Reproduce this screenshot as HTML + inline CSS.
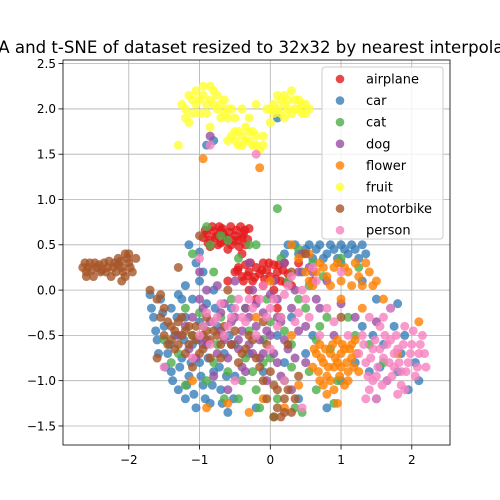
<!DOCTYPE html>
<html><head><meta charset="utf-8"><style>
body{margin:0;background:#fff;}
svg{display:block;font-family:"DejaVu Sans","Liberation Sans",sans-serif;}
</style></head><body>
<svg id="chart" width="500" height="500">
<text x="256" y="53" font-size="16.6" text-anchor="middle">PCA and t-SNE of dataset resized to 32x32 by nearest interpolation</text>
<g id="grid"></g><g id="pts"></g><g id="axes"></g><g id="legend"></g>
</svg>
<script>
const classNames=["airplane","car","cat","dog","flower","fruit","motorbike","person"];
const classColors=["#e41a1c","#377eb8","#4daf4a","#984ea3","#ff7f00","#ffff33","#a65628","#f781bf"];
const xTicks=[-2,-1,0,1,2];
const yTicks=[-1.5,-1.0,-0.5,0.0,0.5,1.0,1.5,2.0,2.5];
const airplanePts=[[-0.95,0.58],[-0.9,0.62],[-0.85,0.55],[-0.8,0.65],[-0.75,0.6],[-0.7,0.52],[-0.68,0.68],[-0.62,0.58],[-0.58,0.64],[-0.55,0.5],[-0.5,0.6],[-0.45,0.55],[-0.42,0.7],[-0.38,0.62],[-0.35,0.5],[-0.3,0.68],[-0.85,0.48],[-0.72,0.7],[-0.6,0.45],[-0.4,0.4],[-0.5,0.2],[-0.45,0.25],[-0.4,0.15],[-0.35,0.28],[-0.3,0.2],[-0.25,0.1],[-0.2,0.25],[-0.15,0.18],[-0.1,0.3],[-0.05,0.22],[0,0.15],[0.05,0.28],[0.1,0.2],[0.15,0.1],[0.2,0.3],[0.25,0.18],[-0.1,0.05],[0.05,0.0],[-0.3,0.0],[0.3,0.05],[0.1,-0.2],[-0.2,-0.1],[0.4,0.3],[0.6,0.1],[-0.6,0.1],
[-0.92,0.66],[-0.88,0.52],[-0.78,0.58],[-0.74,0.5],[-0.66,0.62],[-0.64,0.54],[-0.56,0.7],[-0.52,0.55],[-0.48,0.66],[-0.44,0.48],[-0.4,0.58],[-0.36,0.66],[-0.32,0.56],[-0.82,0.7],[-0.7,0.66],[-0.46,0.22],[-0.38,0.1],[-0.28,0.3],[-0.22,0.14],[-0.12,0.22],[-0.02,0.3],[0.08,0.12],[0.12,0.28],[0.18,0.22],[-0.08,0.12],[0.22,0.08],[-0.32,0.16]];
const carPts=[[-1.7,-0.05],[-1.65,-0.3],[-1.6,-0.55],[-1.55,-0.1],[-1.5,-0.4],[-1.45,-0.7],[-1.4,-0.2],[-1.4,-0.9],[-1.35,-0.5],[-1.3,-1.1],[-1.3,-0.05],[-1.25,-0.75],[-1.2,-0.3],[-1.2,-1.2],[-1.15,-0.95],[-1.1,-0.6],[-1.1,-0.1],[-1.05,-1.3],[-1.0,-0.8],[-1.0,-0.35],[-0.95,-1.05],[-0.9,-0.15],[-0.9,-0.6],[-0.85,-1.25],[-0.8,-0.9],[-0.75,-0.4],[-0.7,-1.1],[-0.65,-0.7],[-0.6,-1.35],[-0.55,-0.2],[-0.5,-0.95],[-1.2,0.05],[-1.0,0.1],[-0.8,0.0],[-1.05,0.3],[-1.0,0.42],[-0.95,0.2],[-0.9,1.6],[-0.8,1.65],[0.1,1.9],[0.2,0.4],[0.35,0.5],[0.5,0.45],[0.6,0.35],[0.7,0.5],[0.8,0.4],[0.9,0.45],[1.0,0.5],[1.1,0.4],[1.2,0.45],[1.3,0.5],[1.0,0.3],[0.45,0.2],[0.3,-0.3],[0.6,-0.5],[0.2,-0.8],[0.4,-1.2],[-0.2,-1.3],[-0.3,-0.7],[1.3,0.1],[1.5,-0.1],[1.7,-0.2],[1.8,-0.15],[1.9,-0.5],[1.6,-0.6],[1.4,-0.9],[1.2,-0.8],[1.8,-0.9],[2.05,-0.8],[1.95,-1.1],[1.5,-1.2],[0.8,-1.3],[1.0,-1.0],[1.3,-0.4],
[-1.68,-0.2],[-1.62,-0.45],[-1.58,-0.7],[-1.52,-0.25],[-1.48,-0.85],[-1.42,-0.6],[-1.38,-1.0],[-1.32,-0.3],[-1.28,-0.85],[-1.22,-0.55],[-1.18,-1.05],[-1.12,-0.8],[-1.08,-1.15],[-1.02,-0.55],[-0.98,-0.95],[-0.92,-1.2],[-0.88,-0.75],[-0.82,-1.05],[-0.78,-0.2],[-0.72,-0.85],[-0.68,-1.25],[-0.62,-0.95],[-0.58,-0.5],[-0.52,-1.2],[-1.15,0.5],[-1.25,-0.1],[0.25,0.5],[0.4,0.4],[0.55,0.5],[0.65,0.45],[0.75,0.35],[0.85,0.5],[0.95,0.35],[1.05,0.45],[1.15,0.5],[1.25,0.35],[1.35,0.4],[1.75,-0.4],[1.85,-0.7],[1.55,-0.85],[1.45,-0.5],[1.65,-1.0],[2.1,-1.0],[0.1,-0.5],[-0.1,-0.9],[0.5,-0.7]];
const catPts=[[-1.5,-0.55],[-1.3,-0.7],[-1.1,0.4],[-1.2,-0.2],[-0.9,0.7],[-0.95,-0.4],[-0.8,-0.8],[-0.7,-0.3],[-0.65,-1.2],[-0.5,-0.6],[-0.45,0.35],[-0.4,-1.0],[-0.35,-0.2],[-0.3,-0.45],[-0.25,-0.9],[-0.2,0.5],[-0.15,-1.3],[-0.1,-0.55],[-0.05,-0.1],[0,-0.75],[0.05,-1.4],[0.1,0.9],[0.15,-0.3],[0.2,-1.0],[0.25,0.1],[0.3,-0.6],[0.35,-1.3],[0.4,0.45],[0.5,-0.2],[0.55,-0.9],[0.6,0.3],[0.65,-1.1],[0.7,-0.4],[0.75,0.15],[0.85,-0.65],[0.9,-1.25],[1.0,0.35],[1.1,-0.3],[1.25,0.25],[1.4,-0.6],[1.6,-0.8],[-0.6,0.55],[-1.2,-1.05],[-1.0,-0.25],[-0.8,0.2],
[-1.4,-0.8],[-1.1,-0.5],[-0.9,-1.0],[-0.85,0.5],[-0.75,-0.6],[-0.6,-0.9],[-0.55,-0.1],[-0.45,-1.2],[-0.35,-0.75],[-0.2,-1.1],[-0.1,-0.8],[0.0,-0.35],[0.1,-1.2],[0.2,-0.45],[0.3,-0.85],[0.4,-0.1],[0.45,-1.35],[0.55,0.05],[0.65,-0.55],[0.8,-0.3],[0.95,-1.0],[1.2,-0.5],[-0.3,0.5],[-0.7,0.6],[0.15,0.35]];
const dogPts=[[-1.3,-0.5],[-1.1,-0.3],[-1.05,-0.75],[-1.0,0.2],[-0.95,-0.2],[-0.9,-0.55],[-0.85,1.7],[-0.8,-0.95],[-0.75,0.05],[-0.7,-0.45],[-0.65,-0.15],[-0.6,-0.75],[-0.55,-0.35],[-0.5,0.1],[-0.45,-0.55],[-0.4,-0.85],[-0.35,-0.2],[-0.3,-0.6],[-0.25,0.0],[-0.2,-0.4],[-0.15,-0.75],[-0.1,-0.25],[-0.05,-1.0],[0,-0.5],[0.05,0.1],[0.1,-0.8],[0.15,-0.35],[0.2,0.3],[0.25,-0.65],[0.3,-1.1],[0.35,0.0],[0.4,-0.45],[0.45,0.4],[0.5,-0.8],[0.6,0.2],[0.7,-0.2],[0.8,0.1],[0.9,-0.5],[1.0,-0.15],[1.2,-0.3],[1.5,-0.35],[0.1,-0.1],[-0.6,-1.1],[-0.3,0.3],[-0.9,0.0],
[-1.2,-0.4],[-1.15,-0.65],[-1.0,-0.1],[-0.95,-0.6],[-0.85,-0.35],[-0.75,-0.7],[-0.7,-0.25],[-0.65,-0.55],[-0.55,-0.6],[-0.5,-0.3],[-0.45,-0.65],[-0.4,-0.45],[-0.35,-0.9],[-0.3,-0.3],[-0.25,-0.7],[-0.2,-0.15],[-0.15,-0.55],[-0.1,-0.7],[-0.05,-0.45],[0.0,-0.05],[0.05,-0.7],[0.1,-0.3],[0.15,-0.95],[0.2,-0.55],[0.3,-0.2],[0.35,-0.75],[0.4,0.2],[0.5,-0.4],[0.55,0.25],[0.65,-0.1]];
const flowerPts=[[0.7,-0.6],[0.75,-0.8],[0.8,-0.95],[0.85,-0.7],[0.9,-1.1],[0.95,-0.55],[1.0,-0.85],[1.05,-0.65],[1.1,-1.0],[1.15,-0.75],[1.2,-0.55],[0.8,-1.15],[0.9,-0.85],[1.0,-0.7],[0.7,-1.0],[1.1,-0.9],[0.6,-0.85],[0.95,-1.25],[1.25,-0.9],[0.65,-0.7],[0.5,0.2],[0.6,0.05],[0.7,0.3],[0.8,0.15],[0.9,0.25],[1.0,0.1],[1.1,0.2],[1.2,0.3],[1.3,0.05],[1.4,0.2],[1.5,0.1],[1.6,-0.1],[1.3,-0.2],[1.0,-0.1],[0.3,0.5],[0.0,0.1],[-0.2,-0.3],[0.3,-0.5],[0.2,-1.3],[-0.1,-1.2],[-0.3,-1.35],[-0.6,-1.25],[-0.9,-1.3],[-1.1,-1.0],[-0.95,1.45],[-0.15,1.35],[2.1,-0.35],[1.8,-0.7],[0.4,-1.05],
[0.72,-0.75],[0.78,-0.65],[0.82,-0.85],[0.88,-0.6],[0.92,-0.75],[0.98,-0.95],[1.02,-0.6],[1.08,-0.8],[1.12,-0.65],[1.18,-0.85],[0.75,-1.05],[0.85,-1.0],[0.95,-0.8],[1.05,-1.05],[0.68,-0.9],[1.15,-0.6],[0.62,-0.65],[1.22,-0.7],[0.55,0.1],[0.65,0.2],[0.75,0.25],[0.85,0.05],[0.95,0.3],[1.05,0.25],[1.15,0.05],[1.25,0.15],[1.35,0.3],[1.45,0.05],[0.4,0.35],[0.55,0.4]];
const fruitPts=[[-1.3,1.6],[-1.2,2.0],[-1.15,1.85],[-1.1,2.1],[-1.05,2.2],[-1.0,1.95],[-0.95,2.15],[-0.9,2.05],[-0.85,1.8],[-0.8,2.2],[-0.75,2.0],[-0.7,1.9],[-0.65,2.1],[-0.6,1.65],[-0.55,2.0],[-0.5,1.75],[-0.45,1.6],[-0.4,1.7],[-0.35,1.8],[-0.3,1.65],[-0.25,1.75],[-0.2,2.05],[-0.15,1.55],[-0.1,1.7],[-0.05,2.0],[0.0,1.85],[0.05,2.05],[0.1,2.15],[0.15,1.95],[0.2,2.05],[0.25,2.0],[0.3,2.2],[0.35,2.0],[0.4,2.1],[0.45,1.95],[0.5,2.05],[0.55,2.0],[-0.6,1.9],[-0.4,2.0],[-0.2,1.6],[-0.3,1.9],[-1.25,2.05],[-0.85,2.25],[0.2,1.9],
[-1.1,1.95],[-1.0,2.1],[-0.95,2.25],[-0.9,1.95],[-0.8,2.05],[-0.75,2.15],[-0.7,2.05],[-0.65,1.95],[-0.55,1.7],[-0.5,1.65],[-0.45,1.75],[-0.4,1.6],[-0.35,1.65],[-0.3,1.75],[-0.25,1.6],[-0.2,1.7],[-0.1,1.6],[0.0,2.0],[0.05,1.95],[0.1,2.0],[0.15,2.1],[0.2,2.15],[0.25,2.1],[0.3,1.95],[0.35,2.1],[0.4,2.0],[0.45,2.05],[0.5,1.95],[-0.6,2.0],[-0.5,1.9],[-1.15,2.15],[-1.2,1.9],[-0.85,2.1],[-1.05,2.05]];
const motorbikePts=[[-2.65,0.25],[-2.6,0.2],[-2.55,0.3],[-2.5,0.15],[-2.45,0.25],[-2.4,0.2],[-2.35,0.3],[-2.3,0.25],[-2.25,0.15],[-2.2,0.3],[-2.15,0.35],[-2.1,0.25],[-2.05,0.4],[-2.0,0.3],[-1.95,0.2],[-2.1,0.1],[-2.0,0.4],[-1.9,0.35],[-1.7,0.0],[-1.6,-0.1],[-1.55,-0.3],[-1.5,-0.5],[-1.45,-0.6],[-1.4,-0.4],[-1.35,-0.65],[-1.3,-0.35],[-1.25,-0.5],[-1.2,-0.7],[-1.15,-0.4],[-1.1,-0.85],[-1.05,-0.55],[-1.0,-0.7],[-0.95,-0.5],[-0.9,-0.3],[-0.85,-0.75],[-0.8,-0.45],[-1.0,0.6],[-0.7,-0.6],[-0.5,-0.45],[-0.4,-0.7],[-0.3,-0.5],[-0.2,-0.75],[-0.1,-0.35],[0.0,-0.9],[0.1,-1.1],[0.2,-1.2],[0.3,-1.35],[0.4,-0.95],[0.15,-1.4],[-0.05,-1.2],[0.25,-0.6],[0.5,0.4],[0.3,0.2],[1.0,-0.3],[-1.3,0.25],[-1.6,-0.75],[-0.6,0.0],
[-2.62,0.3],[-2.58,0.25],[-2.52,0.22],[-2.48,0.3],[-2.42,0.28],[-2.38,0.22],[-2.32,0.2],[-2.28,0.32],[-2.22,0.25],[-2.18,0.2],[-2.12,0.32],[-2.08,0.2],[-2.02,0.35],[-1.98,0.25],[-2.05,0.15],[-2.15,0.28],[-2.6,0.15],
[-1.55,-0.05],[-1.5,-0.2],[-1.45,-0.35],[-1.4,-0.55],[-1.35,-0.45],[-1.3,-0.6],[-1.25,-0.3],[-1.2,-0.45],[-1.15,-0.6],[-1.1,-0.5],[-1.05,-0.4],[-0.95,-0.65],[-0.9,-0.45],[-0.85,-0.55],[-0.75,-0.5],[-0.7,-0.75],[-0.65,-0.4],[-0.55,-0.6],[-0.45,-0.8],[-0.35,-0.65],[-0.25,-0.55],[-0.15,-0.85],[-0.1,-1.0],[0.05,-1.05],[0.1,-1.3],[0.2,-1.35],[0.25,-1.1],[0.35,-1.2],[0.05,-1.4],[-0.05,-0.6]];
const personPts=[[1.3,-0.5],[1.35,-0.8],[1.4,-1.1],[1.45,-0.65],[1.5,-0.95],[1.55,-0.4],[1.6,-0.75],[1.65,-1.0],[1.7,-0.55],[1.75,-0.85],[1.8,-0.65],[1.85,-1.05],[1.9,-0.4],[1.95,-0.8],[2.0,-0.6],[2.05,-0.95],[2.1,-0.7],[2.15,-0.5],[2.2,-0.85],[1.6,-0.3],[1.5,-1.2],[1.9,-1.1],[1.4,-0.3],[1.25,-0.7],[1.7,-0.2],[-1.5,-0.85],[-1.0,-0.5],[-0.9,-0.25],[-0.8,-0.35],[-0.7,-0.15],[-0.6,-0.4],[-0.5,-0.2],[-0.4,-0.3],[-0.3,-0.1],[-0.2,-0.5],[-0.1,0.05],[0.0,-0.2],[0.1,-0.4],[0.2,-0.05],[0.3,0.15],[0.4,-0.25],[0.5,-0.1],[0.6,0.25],[0.7,-0.5],[0.8,-0.2],[1.0,0.2],[0.9,-0.35],[1.1,-0.5],[-0.85,1.6],[-0.2,1.5],[0.45,-1.3],[-1.0,0.35],[0.2,-1.0],
[1.32,-0.6],[1.38,-0.95],[1.42,-0.75],[1.48,-0.55],[1.52,-0.85],[1.58,-1.05],[1.62,-0.5],[1.68,-0.8],[1.72,-0.95],[1.78,-0.5],[1.82,-0.8],[1.88,-0.6],[1.92,-0.9],[1.98,-0.7],[2.02,-0.45],[2.08,-0.85],[2.12,-0.6],[2.18,-0.7],[1.55,-0.65],[1.65,-0.6],[1.75,-0.7],[1.85,-0.9],[1.45,-1.0],[1.35,-1.2],[1.8,-1.15],[-0.95,-0.4],[-0.75,-0.3],[-0.65,-0.5],[-0.55,-0.3],[-0.45,-0.1],[-0.35,-0.35],[-0.25,-0.2],[-0.15,-0.1],[-0.05,-0.3],[0.05,-0.1],[0.15,-0.3],[0.25,0.05],[0.35,-0.35],[0.45,0.0],[0.55,-0.3],[0.65,0.1],[-0.85,-0.6],[-1.1,-0.75],[-0.5,-1.0],[0.0,-0.65]];
const allSeries=[airplanePts,carPts,catPts,dogPts,flowerPts,fruitPts,motorbikePts,personPts];

const NS="http://www.w3.org/2000/svg";
const L=63,R=450,T=60,B=445;
const xMin=-2.93,xMax=2.54,yMin=-1.71,yMax=2.54;
const sx=v=>L+(v-xMin)/(xMax-xMin)*(R-L);
const sy=v=>B-(v-yMin)/(yMax-yMin)*(B-T);
function mk(tag,attrs,parent){const e=document.createElementNS(NS,tag);for(const k in attrs)e.setAttribute(k,attrs[k]);parent.appendChild(e);return e;}
const grid=document.getElementById('grid'),pts=document.getElementById('pts'),axes=document.getElementById('axes'),leg=document.getElementById('legend');
xTicks.forEach(t=>{
  const g=mk('line',{x1:sx(t),x2:sx(t),y1:T,y2:B,stroke:'#b0b0b0','stroke-width':0.8},grid);
  
  
  const tk=mk('line',{x1:sx(t),x2:sx(t),y1:B,y2:B+4.5,stroke:'#000','stroke-width':0.8},axes);
  
  
  const tx=mk('text',{x:sx(t),y:B+19,'font-size':12,'text-anchor':'middle'},axes);
  tx.textContent=(t<0?'\u2212'+Math.abs(t):String(t));
  
  
});
yTicks.forEach(t=>{
  const g=mk('line',{x1:L,x2:R,y1:sy(t),y2:sy(t),stroke:'#b0b0b0','stroke-width':0.8},grid);
  
  
  const tk=mk('line',{x1:L-4.5,x2:L,y1:sy(t),y2:sy(t),stroke:'#000','stroke-width':0.8},axes);
  
  
  const tx=mk('text',{x:L-7,y:sy(t)+4.3,'font-size':12,'text-anchor':'end'},axes);
  tx.textContent=(t<0?'\u2212':'')+Math.abs(t).toFixed(1);
  
  
});
const frame=mk('rect',{x:L,y:T,width:R-L,height:B-T,fill:'none',stroke:'#000','stroke-width':0.8},axes);


allSeries.forEach((s,i)=>{
  s.forEach(p=>{
    const c=mk('circle',{cx:sx(p[0]),cy:sy(p[1]),r:4.5,fill:classColors[i],'fill-opacity':0.8},pts);
    
    
  });
});
const lb=mk('rect',{x:322,y:67,width:121,height:172,rx:3,fill:'#fff','fill-opacity':0.8,stroke:'#ccc','stroke-width':1},leg);


classNames.forEach((n,i)=>{
  const y=79+i*21.6;
  const c=mk('circle',{cx:340,cy:y,r:4.3,fill:classColors[i],'fill-opacity':0.8},leg);
  
  
  const t=mk('text',{x:366,y:y+4.5,'font-size':13},leg);
  t.textContent=n;
  
  
});
</script>
</body></html>
